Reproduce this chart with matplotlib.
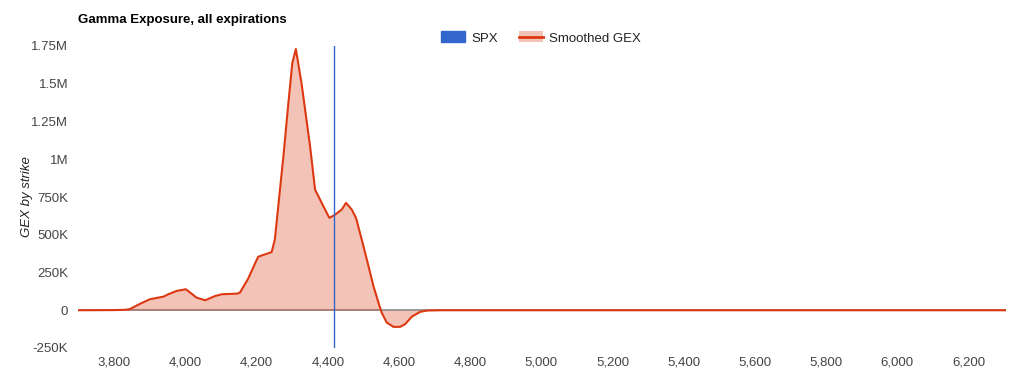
import numpy as np
import matplotlib
matplotlib.use('Agg')
import matplotlib.pyplot as plt
from matplotlib.lines import Line2D
from matplotlib.patches import Patch
from matplotlib.ticker import FuncFormatter

plt.rcParams['font.family'] = ['Liberation Sans', 'DejaVu Sans']

# strikes and smoothed GEX values
strikes = [3700, 3800, 3830, 3844, 3870, 3900, 3938, 3952, 3975, 4001,
           4031, 4055, 4083, 4102, 4145, 4153, 4176, 4190, 4204, 4223,
           4242, 4251, 4275, 4289, 4300, 4310, 4326, 4350, 4364, 4385,
           4404, 4418, 4439, 4451, 4467, 4479, 4496, 4514, 4528, 4542,
           4551, 4565, 4584, 4603, 4617, 4636, 4659, 4678, 4720, 6305]
gex = [0, 1000, 3000, 8000, 40000, 73000, 90000, 106000, 128000, 139000,
       84000, 66000, 94000, 106000, 110000, 117000, 209000, 282000, 354000, 370000,
       385000, 469000, 1019000, 1372000, 1636000, 1730000, 1503000, 1085000, 799000, 700000,
       612000, 629000, 667000, 711000, 667000, 612000, 460000, 293000, 160000, 51000,
       -15000, -81000, -110000, -110000, -92000, -42000, -11000, -2000, 0, 0]
spx = 4418

x_ticks = list(range(3800, 6201, 200))
y_ticks = list(range(-250000, 1750001, 250000))

red = '#dc3912'
blue = '#3366cc'

fig = plt.figure(figsize=(10.24, 3.88), dpi=100)
ax = fig.add_axes([78 / 1024, 40 / 388, 928 / 1024, 302 / 388])

ax.axhline(0, color='#888888', lw=1.2, zorder=1)
ax.fill_between(strikes, gex, 0, color=red, alpha=0.3, lw=0, zorder=2)
ax.plot(strikes, gex, color=red, lw=1.5, zorder=3)
ax.axvline(spx, color=blue, lw=1, zorder=4)

ax.set_xlim(3698, 6305)
ax.set_ylim(-250000, 1750000)
ax.set_xticks(x_ticks)
ax.set_yticks(y_ticks)


def fmt_y(v, pos):
    if v == 0:
        return '0'
    if abs(v) >= 1e6:
        return ('%g' % (v / 1e6)) + 'M'
    return ('%g' % (v / 1e3)) + 'K'


ax.xaxis.set_major_formatter(FuncFormatter(lambda v, p: '{:,.0f}'.format(v)))
ax.yaxis.set_major_formatter(FuncFormatter(fmt_y))
ax.tick_params(length=0, labelsize=9.5, colors='#444444')
ax.tick_params(axis='x', pad=6)
ax.tick_params(axis='y', pad=7)
for s in ax.spines.values():
    s.set_visible(False)

fig.text(78 / 1024, 1 - 20 / 388, 'Gamma Exposure, all expirations',
         fontsize=9.5, fontweight='bold', va='center', ha='left', color='#000000')
fig.text(27 / 1024, 1 - 197 / 388, 'GEX by strike', rotation=90, style='italic',
         fontsize=9.5, va='center', ha='center', color='#222222')

handles = [Patch(facecolor=blue, edgecolor=blue),
           (Patch(facecolor=red, alpha=0.3, lw=0), Line2D([], [], color=red, lw=2))]
leg = fig.legend(handles, ['SPX', 'Smoothed GEX'], loc='center',
                 bbox_to_anchor=(541 / 1024, 1 - 38 / 388), ncol=2, frameon=False,
                 fontsize=9.5, handlelength=1.8, handleheight=0.9,
                 columnspacing=1.6, handletextpad=0.5)
for t in leg.get_texts():
    t.set_color('#222222')

fig.savefig('out.png', dpi=100)
